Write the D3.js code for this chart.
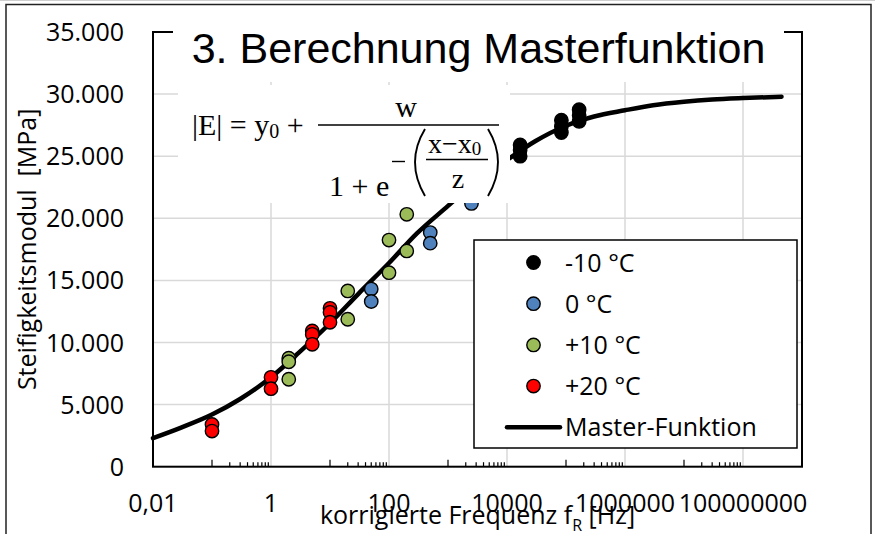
<!DOCTYPE html>
<html>
<head>
<meta charset="utf-8">
<script src="https://cdn.jsdelivr.net/npm/d3@7"></script>
<style>
  body { margin: 0; background: #fff; }
  svg { display: block; }
</style>
</head>
<body>
<div id="chart"></div>
<script>
// measured series, frequency [Hz] / modulus [MPa]
const pointsM10 = [[1670, 22600], [1670, 22000], [16700, 25900], [16700, 25500], [16700, 25000],
                   [83500, 27900], [83500, 27400], [83500, 26900], [167000, 28750], [167000, 28300], [167000, 27800]]
const points0 = [[50, 14300], [50, 13300], [500, 18850], [500, 18000], [2500, 21200], [5000, 22800], [5000, 22200]]
const pointsP10 = [[2, 8730], [2, 8450], [2, 7040], [20, 14150], [20, 11870], [100, 18250], [100, 15620], [200, 20320], [200, 17370]]
const pointsP20 = [[0.1, 3400], [0.1, 2870], [1, 7200], [1, 6280], [5, 10930], [5, 10660], [5, 9855], [10, 12750], [10, 12430], [10, 11630]]

const seriesNames = ["-10 °C", "0 °C", "+10 °C", "+20 °C"]
const seriesColors = ["#000000", "#4f81bd", "#9bbb59", "#ff0000"]
const lineName = "Master-Funktion"

// master function
const masterFreq = [0.01, 0.03, 0.1, 0.3, 1, 3, 10, 30, 100, 300, 1000, 3000, 1e4, 3e4, 1e5, 3e5, 1e6, 3e6, 1e7, 3e7, 1e8, 4.5e8]
const masterE = [2300, 3150, 4200, 5450, 7200, 9200, 11550, 13900, 16400, 18800, 21000, 23000, 24700, 26200, 27450, 28200, 28700, 29100, 29380, 29560, 29680, 29790]

const xTicks = [0.01, 1, 100, 1e4, 1e6, 1e8]
const xTickLabels = ["0,01", "1", "100", "10000", "1000000", "100000000"]
const yTicks = [0, 5000, 10000, 15000, 20000, 25000, 30000, 35000]

const width = 875, height = 534
const margin = {left: 153, right: 73, top: 32, bottom: 67.3}
const sans = "'Open Sans', 'Noto Sans', sans-serif"
const serif = "'Liberation Serif', 'DejaVu Serif', serif"

const svg = d3.select("#chart").append("svg").attr("width", width).attr("height", height)

// outer frame
svg.append("line").attr("x1", 0).attr("x2", width).attr("y1", 0.5).attr("y2", 0.5).attr("stroke", "#cfcfcf")
svg.append("rect").attr("x", 6).attr("y", 4.5).attr("width", 865).attr("height", 540)
   .attr("fill", "none").attr("stroke", "#222").attr("stroke-width", 1.5)

var x = d3.scaleLog().domain([0.01, 1e9]).range([margin.left, width - margin.right])
var y = d3.scaleLinear().domain([0, 35000]).range([height - margin.bottom, margin.top])

// grid
svg.append("g").selectAll("line").data(yTicks.slice(1))
   .join("line").attr("x1", x(0.01)).attr("x2", x(1e9)).attr("y1", d => y(d)).attr("y2", d => y(d))
   .attr("stroke", "#d9d9d9").attr("stroke-width", 1.5)
svg.append("g").selectAll("line").data(xTicks.slice(1))
   .join("line").attr("x1", d => x(d)).attr("x2", d => x(d)).attr("y1", y(0)).attr("y2", y(35000))
   .attr("stroke", "#d9d9d9").attr("stroke-width", 1.5)

// minor ticks (inside, pointing up)
const minor = []
;[0.1, 10, 1000, 1e5, 1e7].forEach(b => { for (let k = 1; k <= 9; k++) minor.push([b * k, k]) })
svg.append("g").selectAll("line").data(minor)
   .join("line").attr("x1", d => x(d[0])).attr("x2", d => x(d[0]))
   .attr("y1", y(0)).attr("y2", d => y(0) - (d[1] == 1 ? 7 : 4.5))
   .attr("stroke", "#000").attr("stroke-width", 1.2)

// plot frame
svg.append("rect").attr("x", x(0.01)).attr("y", y(35000)).attr("width", x(1e9) - x(0.01)).attr("height", y(0) - y(35000))
   .attr("fill", "none").attr("stroke", "#000").attr("stroke-width", 2)

// axes labels
svg.append("g").selectAll("text").data(yTicks)
   .join("text").attr("x", 124).attr("y", d => y(d) + 9).attr("text-anchor", "end")
   .attr("font-family", sans).attr("font-size", 25).attr("fill", "#000")
   .text(d => d == 0 ? "0" : d3.format(",")(d).replace(/,/g, "."))
svg.append("g").selectAll("text").data(xTicks)
   .join("text").attr("x", d => x(d)).attr("y", 512).attr("text-anchor", "middle")
   .attr("font-family", sans).attr("font-size", 25).attr("fill", "#000")
   .text((d, i) => xTickLabels[i])

svg.append("text").attr("transform", `translate(36,${(y(0) + y(35000)) / 2}) rotate(-90)`)
   .attr("text-anchor", "middle").attr("font-family", sans).attr("font-size", 25)
   .style("white-space", "pre").text("Steifigkeitsmodul  [MPa]")

const xt = svg.append("text").attr("x", (x(0.01) + x(1e9)) / 2).attr("y", 524)
   .attr("text-anchor", "middle").attr("font-family", sans).attr("font-size", 25).style("white-space", "pre")
xt.append("tspan").text("korrigierte Frequenz f")
xt.append("tspan").attr("font-size", 16).attr("dy", 7).text("R")
xt.append("tspan").attr("dy", -7).text(" [Hz]")

// master curve
var line = d3.line().curve(d3.curveMonotoneX).x(d => x(d[0])).y(d => y(d[1]))
svg.append("path").datum(masterFreq.map((f, i) => [f, masterE[i]]))
   .attr("fill", "none").attr("stroke", "#000").attr("stroke-width", 4.5)
   .attr("stroke-linecap", "round").attr("stroke-linejoin", "round").attr("d", line)

// points
const allSeries = [pointsM10, points0, pointsP10, pointsP20]
allSeries.forEach((pts, i) => {
  svg.append("g").selectAll("circle").data(pts)
     .join("circle").attr("cx", d => x(d[0])).attr("cy", d => y(d[1])).attr("r", 6.7)
     .attr("fill", seriesColors[i]).attr("stroke", "#000").attr("stroke-width", 1.4)
})

// title with white box
svg.append("rect").attr("x", 173).attr("y", 14).attr("width", 611).attr("height", 68).attr("fill", "#fff")
svg.append("text").attr("x", (x(0.01) + x(1e9)) / 2 + 1).attr("y", 63).attr("text-anchor", "middle")
   .attr("font-family", "'Liberation Sans', Arial, sans-serif").attr("font-size", 43).attr("fill", "#000")
   .text("3. Berechnung Masterfunktion")

// formula picture
const fg = svg.append("g").attr("font-family", serif).attr("fill", "#000")
fg.append("rect").attr("x", 178).attr("y", 85).attr("width", 332).attr("height", 118).attr("fill", "#fff")
const lhs = fg.append("text").attr("x", 192).attr("y", 135).attr("font-size", 30).style("white-space", "pre")
lhs.append("tspan").text("|E| = y")
lhs.append("tspan").attr("font-size", 20).attr("dy", 3).text("0")
lhs.append("tspan").attr("dy", -3).text(" +")
fg.append("line").attr("x1", 318).attr("x2", 499).attr("y1", 125).attr("y2", 125).attr("stroke", "#000").attr("stroke-width", 1.6)
fg.append("text").attr("x", 406).attr("y", 116.5).attr("text-anchor", "middle").attr("font-size", 30).text("w")
fg.append("text").attr("x", 329).attr("y", 196).attr("font-size", 30).style("white-space", "pre").text("1 + e")
fg.append("line").attr("x1", 392).attr("x2", 405).attr("y1", 161.5).attr("y2", 161.5).attr("stroke", "#000").attr("stroke-width", 1.4)
fg.append("path").attr("d", "M425,129 Q405,162 425,196").attr("fill", "none").attr("stroke", "#000").attr("stroke-width", 1.9)
fg.append("path").attr("d", "M488,129 Q508,162 488,196").attr("fill", "none").attr("stroke", "#000").attr("stroke-width", 1.9)
const num = fg.append("text").attr("x", 428).attr("y", 153).attr("font-size", 28)
num.append("tspan").text("x−x")
num.append("tspan").attr("font-size", 19).attr("dy", 2).text("0")
fg.append("line").attr("x1", 426).attr("x2", 488).attr("y1", 159.5).attr("y2", 159.5).attr("stroke", "#000").attr("stroke-width", 1.4)
fg.append("text").attr("x", 458).attr("y", 188).attr("text-anchor", "middle").attr("font-size", 28).text("z")

// legend
const lg = svg.append("g")
lg.append("rect").attr("x", 474).attr("y", 240).attr("width", 323).attr("height", 208)
  .attr("fill", "#fff").attr("stroke", "#000").attr("stroke-width", 1.5)
seriesNames.forEach((name, i) => {
  const cy = 262.5 + i * 41.2
  lg.append("circle").attr("cx", 533.5).attr("cy", cy).attr("r", 6.7)
    .attr("fill", seriesColors[i]).attr("stroke", "#000").attr("stroke-width", 1.4)
  lg.append("text").attr("x", 565).attr("y", cy + 9).attr("font-family", sans).attr("font-size", 25).text(name)
})
lg.append("line").attr("x1", 507).attr("x2", 560).attr("y1", 427.3).attr("y2", 427.3)
  .attr("stroke", "#000").attr("stroke-width", 4.5).attr("stroke-linecap", "round")
lg.append("text").attr("x", 565).attr("y", 436.3).attr("font-family", sans).attr("font-size", 25).text(lineName)
</script>
</body>
</html>
